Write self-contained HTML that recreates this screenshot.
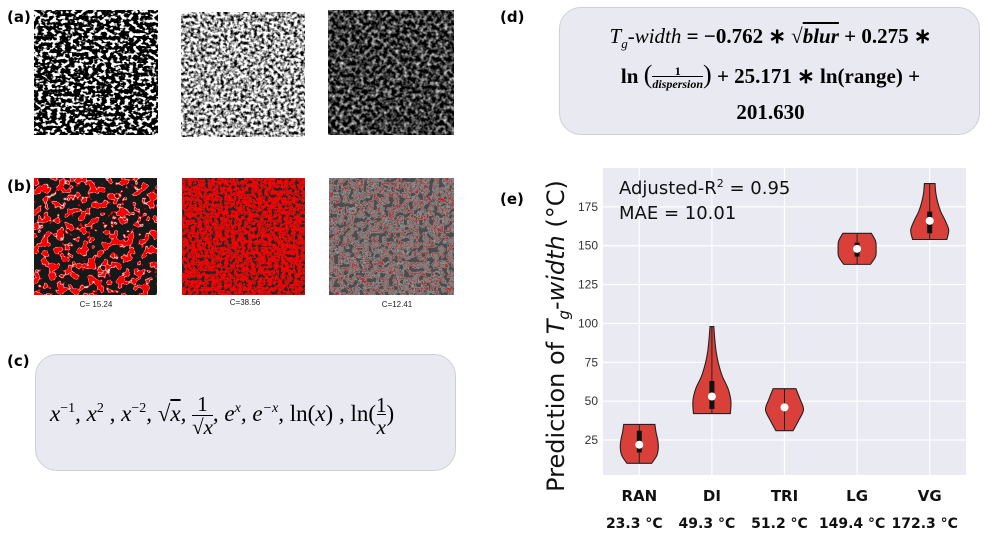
<!DOCTYPE html>
<html><head><meta charset="utf-8"><style>
body{margin:0;background:#fff;width:1000px;height:559px;overflow:hidden;position:relative;font-family:"Liberation Sans",sans-serif}
.lbl{position:absolute;font-weight:bold;font-size:15px;font-family:"DejaVu Sans","Liberation Sans",sans-serif}
.box{position:absolute;background:#e9e9f1;border:1px solid #cfcfd8;border-radius:22px;box-sizing:border-box}
.cap{position:absolute;font-size:8px;color:#222;width:80px;text-align:center}
.eq{font-family:"Liberation Serif",serif;position:absolute;white-space:nowrap}
</style></head><body>
<svg width="0" height="0" style="position:absolute">
<defs>
<filter id="fa1" x="0" y="0" width="1" height="1" color-interpolation-filters="sRGB"><feTurbulence type="fractalNoise" baseFrequency="0.22 0.3" numOctaves="2" seed="3"/><feColorMatrix type="matrix" values="1 0 0 0 0 1 0 0 0 0 1 0 0 0 0 0 0 0 0 1"/><feComponentTransfer><feFuncR type="linear" slope="10" intercept="-5.0"/><feFuncG type="linear" slope="10" intercept="-5.0"/><feFuncB type="linear" slope="10" intercept="-5.0"/></feComponentTransfer></filter>
<filter id="fa2" x="0" y="0" width="1" height="1" color-interpolation-filters="sRGB"><feTurbulence type="fractalNoise" baseFrequency="0.3" numOctaves="2" seed="5"/><feColorMatrix type="matrix" values="1 0 0 0 0 1 0 0 0 0 1 0 0 0 0 0 0 0 0 1"/><feComponentTransfer><feFuncR type="linear" slope="3" intercept="-0.85"/><feFuncG type="linear" slope="3" intercept="-0.85"/><feFuncB type="linear" slope="3" intercept="-0.85"/></feComponentTransfer></filter>
<filter id="fa3" x="0" y="0" width="1" height="1" color-interpolation-filters="sRGB"><feTurbulence type="fractalNoise" baseFrequency="0.25" numOctaves="2" seed="7"/><feColorMatrix type="matrix" values="1 0 0 0 0 1 0 0 0 0 1 0 0 0 0 0 0 0 0 1"/><feComponentTransfer><feFuncR type="linear" slope="1.8" intercept="-0.68"/><feFuncG type="linear" slope="1.8" intercept="-0.68"/><feFuncB type="linear" slope="1.8" intercept="-0.68"/></feComponentTransfer></filter>
<filter id="fb1" x="0" y="0" width="1" height="1" color-interpolation-filters="sRGB"><feTurbulence type="fractalNoise" baseFrequency="0.13" numOctaves="2" seed="11"/><feColorMatrix type="matrix" values="1 0 0 0 0 1 0 0 0 0 1 0 0 0 0 0 0 0 0 1"/><feComponentTransfer><feFuncR type="linear" slope="4" intercept="-1.5"/><feFuncG type="linear" slope="4" intercept="-1.5"/><feFuncB type="linear" slope="4" intercept="-1.5"/></feComponentTransfer><feComponentTransfer><feFuncR type="discrete" tableValues="0.08 0.08 0.08 0.08 1 0.7 1"/><feFuncG type="discrete" tableValues="0.1 0.1 0.1 0.1 0 0.88 0"/><feFuncB type="discrete" tableValues="0.1 0.1 0.1 0.1 0 0.88 0"/></feComponentTransfer></filter>
<filter id="fb2" x="0" y="0" width="1" height="1" color-interpolation-filters="sRGB"><feTurbulence type="fractalNoise" baseFrequency="0.3" numOctaves="2" seed="13"/><feColorMatrix type="matrix" values="1 0 0 0 0 1 0 0 0 0 1 0 0 0 0 0 0 0 0 1"/><feComponentTransfer><feFuncR type="linear" slope="4" intercept="-1.5"/><feFuncG type="linear" slope="4" intercept="-1.5"/><feFuncB type="linear" slope="4" intercept="-1.5"/></feComponentTransfer><feComponentTransfer><feFuncR type="discrete" tableValues="0.15 1 1 1 0.2 1 1"/><feFuncG type="discrete" tableValues="0.15 0 0 0 0.2 0 0"/><feFuncB type="discrete" tableValues="0.15 0 0 0 0.2 0 0"/></feComponentTransfer></filter>
<filter id="fb3" x="0" y="0" width="1" height="1" color-interpolation-filters="sRGB"><feTurbulence type="fractalNoise" baseFrequency="0.2" numOctaves="2" seed="17"/><feColorMatrix type="matrix" values="1 0 0 0 0 1 0 0 0 0 1 0 0 0 0 0 0 0 0 1"/><feComponentTransfer><feFuncR type="linear" slope="4" intercept="-1.5"/><feFuncG type="linear" slope="4" intercept="-1.5"/><feFuncB type="linear" slope="4" intercept="-1.5"/></feComponentTransfer><feComponentTransfer><feFuncR type="discrete" tableValues="0.3 0.4 0.5 0.58 0.48 0.4 1 0.5"/><feFuncG type="discrete" tableValues="0.3 0.4 0.5 0.58 0.48 0.4 0 0.5"/><feFuncB type="discrete" tableValues="0.3 0.4 0.5 0.58 0.48 0.4 0 0.5"/></feComponentTransfer></filter>
</defs></svg>

<div class="lbl" style="left:7px;top:8px">(a)</div>
<div class="lbl" style="left:7px;top:177px">(b)</div>
<div class="lbl" style="left:7px;top:352px">(c)</div>
<div class="lbl" style="left:500px;top:8px">(d)</div>
<div class="lbl" style="left:500px;top:190px">(e)</div>

<svg style="position:absolute;left:34px;top:10px" width="124" height="125"><rect width="124" height="125" filter="url(#fa1)"/></svg>
<svg style="position:absolute;left:181px;top:12px" width="124" height="125"><rect width="124" height="125" filter="url(#fa2)"/></svg>
<svg style="position:absolute;left:328px;top:10px" width="126" height="125"><rect width="126" height="125" filter="url(#fa3)"/></svg>
<svg style="position:absolute;left:34px;top:178px" width="123" height="117"><rect width="123" height="117" filter="url(#fb1)"/></svg>
<svg style="position:absolute;left:182px;top:178px" width="123" height="117"><rect width="123" height="117" filter="url(#fb2)"/></svg>
<svg style="position:absolute;left:329px;top:178px" width="125" height="117"><rect width="125" height="117" filter="url(#fb3)"/></svg>
<div class="cap" style="left:56px;top:300px">C= 15.24</div>
<div class="cap" style="left:205px;top:298px">C=38.56</div>
<div class="cap" style="left:357px;top:300px">C=12.41</div>

<div class="box" style="left:35px;top:354px;width:421px;height:117px">
<div class="eq" style="left:14px;top:38px;font-size:23px;font-style:italic">x<sup style="font-size:14px;font-style:normal">−1</sup>, x<sup style="font-size:14px;font-style:normal">2</sup> , x<sup style="font-size:14px;font-style:normal">−2</sup>, <span style="font-style:normal">√</span><span style="text-decoration:overline">x</span>, <span style="display:inline-block;vertical-align:middle;text-align:center;font-size:21px;line-height:22px"><span style="font-style:normal">1</span><br><span style="border-top:1px solid #000;display:inline-block"><span style="font-style:normal">√</span>x</span></span>, e<sup style="font-size:14px">x</sup>, e<sup style="font-size:14px">−x</sup>, <span style="font-style:normal">ln(</span>x<span style="font-style:normal">)</span> , <span style="font-style:normal">ln(</span><span style="display:inline-block;vertical-align:middle;text-align:center;font-size:21px;line-height:22px"><span style="font-style:normal">1</span><br><span style="border-top:1px solid #000">x</span></span><span style="font-style:normal">)</span></div>
</div>

<div class="box" style="left:559px;top:7px;width:421px;height:128px">
<div class="eq" style="left:0;width:421px;text-align:center;top:16px;font-size:21px;font-weight:bold"><i style="font-weight:normal">T<sub style="font-size:13px">g</sub>-width</i> = −0.762 ∗ √<span style="text-decoration:overline"><i>blur</i></span> + 0.275 ∗</div>
<div class="eq" style="left:0;width:421px;text-align:center;top:52px;font-size:21px;font-weight:bold">ln <span style="font-size:26px;font-weight:normal">(</span><span style="display:inline-block;vertical-align:middle;text-align:center;font-size:12px;line-height:13px">1<br><span style="border-top:1px solid #000;font-style:italic">dispersion</span></span><span style="font-size:26px;font-weight:normal">)</span> + 25.171 ∗ ln(range) +</div>
<div class="eq" style="left:0;width:421px;text-align:center;top:92px;font-size:21px;font-weight:bold">201.630</div>
</div>

<svg id="chart" style="position:absolute;left:0;top:0" width="1000" height="559"></svg>
<script>
const categories = ["RAN","DI","TRI","LG","VG"];
const tempLabels = ["23.3 °C","49.3 °C","51.2 °C","149.4 °C","172.3 °C"];
const mins = [10,42,31,138,154];
const maxs = [35,98,58,158,190];
const medians = [22,53,46,148,166];
const q1s = [17,45,44,143,158];
const q3s = [31,63,48,152,172];
const profiles = [
  [0.65,0.92,1,0.97,0.88,0.82],
  [0.97,1,0.85,0.55,0.35,0.22,0.15,0.1],
  [0.45,0.75,1,0.82,0.6],
  [0.7,0.97,1,0.97,0.75],
  [0.9,1,0.82,0.58,0.42,0.32,0.28]
];
const yTicks = [25,50,75,100,125,150,175];

const NS="http://www.w3.org/2000/svg";
const svg=document.getElementById('chart');
const PX0=603,PX1=966,PY0=168,PY1=475,YMIN=2.5,YMAX=200,HALF=19;
const band=(PX1-PX0)/categories.length;
function xS(i){return PX0+band*(i+0.5);}
function yS(v){return PY1-(v-YMIN)/(YMAX-YMIN)*(PY1-PY0);}
function mk(tag,attrs,parent){const e=document.createElementNS(NS,tag);for(const k in attrs)e.setAttribute(k,attrs[k]);(parent||svg).appendChild(e);return e;}

const bg=mk('rect',{x:PX0,y:PY0,width:PX1-PX0,height:PY1-PY0,fill:'#eaeaf2'});


yTicks.forEach(t=>{
  const l=mk('line',{x1:PX0,x2:PX1,y1:yS(t),y2:yS(t),stroke:'#fff','stroke-width':1.2});
  
  
  const tx=mk('text',{x:PX0-5,y:yS(t)+4,'text-anchor':'end','font-size':12,fill:'#333','font-family':'Liberation Sans, sans-serif'});
  tx.textContent=t;
  
  
});
categories.forEach((c,i)=>{
  const l=mk('line',{x1:xS(i),x2:xS(i),y1:PY0,y2:PY1,stroke:'#fff','stroke-width':1.2});
  
  
});
function smooth(pts){
  let d='';
  for(let i=0;i<pts.length-1;i++){
    const p0=pts[Math.max(0,i-1)],p1=pts[i],p2=pts[i+1],p3=pts[Math.min(pts.length-1,i+2)];
    const c1=[p1[0]+(p2[0]-p0[0])/6,p1[1]+(p2[1]-p0[1])/6];
    const c2=[p2[0]-(p3[0]-p1[0])/6,p2[1]-(p3[1]-p1[1])/6];
    d+=`C${c1[0]},${c1[1]} ${c2[0]},${c2[1]} ${p2[0]},${p2[1]}`;
  }
  return d;
}
categories.forEach((c,i)=>{
  const prof=profiles[i],n=prof.length,cx=xS(i);
  const right=prof.map((w,k)=>[cx+w*HALF,yS(mins[i]+(maxs[i]-mins[i])*k/(n-1))]);
  const left=prof.map((w,k)=>[cx-w*HALF,yS(mins[i]+(maxs[i]-mins[i])*k/(n-1))]).reverse();
  let d=`M${right[0][0]},${right[0][1]}`+smooth(right)+`L${left[0][0]},${left[0][1]}`+smooth(left)+'Z';
  const v=mk('path',{d:d,fill:'#d9403a',stroke:'#222','stroke-width':1.1});
  
  
  const w=mk('line',{x1:cx,x2:cx,y1:yS(mins[i]),y2:yS(maxs[i]),stroke:'#222','stroke-width':1});
  
  
  const b=mk('rect',{x:cx-2.5,y:yS(q3s[i]),width:5,height:yS(q1s[i])-yS(q3s[i]),fill:'#111'});
  
  
  const m=mk('circle',{cx:cx,cy:yS(medians[i]),r:4,fill:'#fff'});
  
  
  const t=mk('text',{x:cx,y:501,'text-anchor':'middle','font-size':15,'font-weight':'bold','font-family':'DejaVu Sans, sans-serif',fill:'#111'});
  t.textContent=c;
  
  
  const t2=mk('text',{x:cx-5,y:528,'text-anchor':'middle','font-size':14,'font-weight':'bold','font-family':'DejaVu Sans, sans-serif',fill:'#111'});
  t2.textContent=tempLabels[i];
  
  
});
const a1=mk('text',{x:619,y:194,'font-size':18,fill:'#111','font-family':'DejaVu Sans, sans-serif'});
a1.innerHTML='Adjusted-R<tspan dy="-7" font-size="11">2</tspan><tspan dy="7"> = 0.95</tspan>';


const a2=mk('text',{x:619,y:219,'font-size':18,fill:'#111','font-family':'DejaVu Sans, sans-serif'});
a2.textContent='MAE = 10.01';


const yt=mk('text',{transform:'translate(564,336) rotate(-90)','text-anchor':'middle','font-size':24,fill:'#111','font-family':'DejaVu Sans, sans-serif'});
yt.innerHTML='Prediction of <tspan font-style="italic">T</tspan><tspan font-style="italic" font-size="15" dy="5">g</tspan><tspan dy="-5" font-style="italic">-width</tspan> (°C)';


</script>
</body></html>
